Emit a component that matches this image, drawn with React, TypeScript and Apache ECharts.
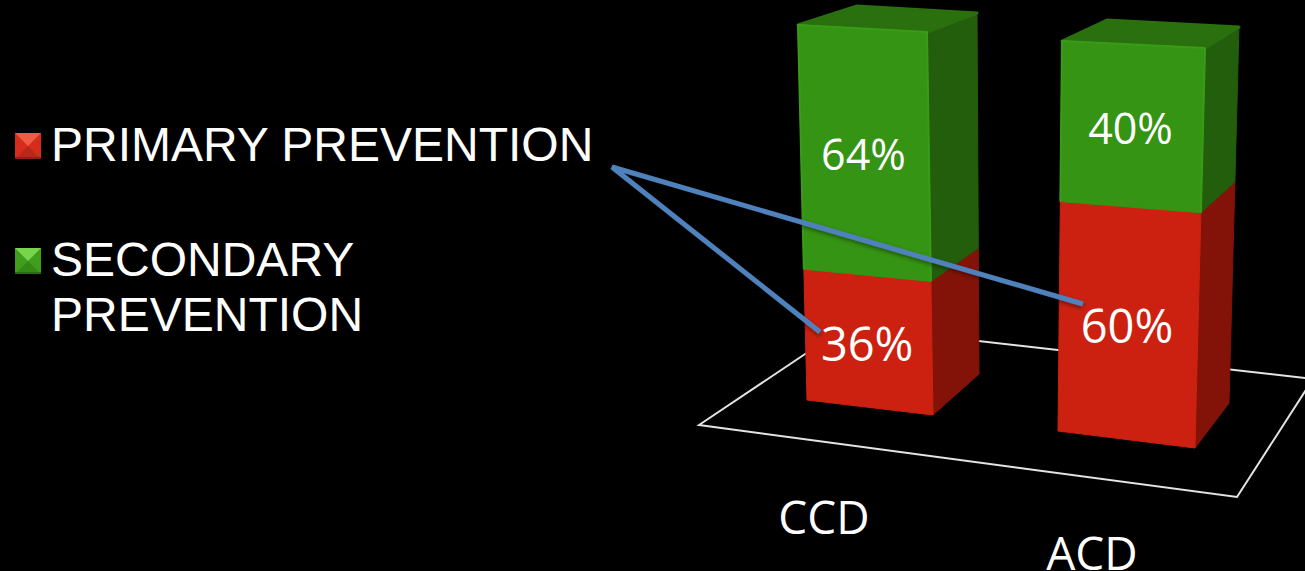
import React, { useEffect, useRef } from "react";
import * as echarts from "echarts";

const categories = ["CCD", "ACD"];
const primaryPrevention = [36, 60];
const secondaryPrevention = [64, 40];
const seriesNames = ["PRIMARY PREVENTION", "SECONDARY PREVENTION"];
const legendLines = [["PRIMARY PREVENTION"], ["SECONDARY", "PREVENTION"]];

const WIDTH = 1305;
const HEIGHT = 571;

type Pt = [number, number];
type Edge = { bottom: Pt; top: Pt };

// Screen projection of each column's 0-100% box: three vertical edges plus the far top corner.
const columnFrames: { frontLeft: Edge; frontRight: Edge; backRight: Edge; backTop: Pt }[] = [
  {
    frontLeft: { bottom: [807, 400], top: [798, 25] },
    frontRight: { bottom: [933, 415], top: [927, 32] },
    backRight: { bottom: [979, 374], top: [977, 13] },
    backTop: [857, 6],
  },
  {
    frontLeft: { bottom: [1058, 431], top: [1062, 41] },
    frontRight: { bottom: [1195, 448], top: [1205, 48] },
    backRight: { bottom: [1229, 403], top: [1239, 27] },
    backTop: [1107, 20],
  },
];

// Vertical foreshortening of the perspective view.
const DEPTH_RATIO = 1.05;
const foreshorten = (t: number) => t / (t + (1 - t) * DEPTH_RATIO);
const along = (e: Edge, t: number): Pt => {
  const k = foreshorten(t);
  return [e.bottom[0] + (e.top[0] - e.bottom[0]) * k, e.bottom[1] + (e.top[1] - e.bottom[1]) * k];
};

const palette = [
  { front: "#cc2110", side: "#831308", top: "#a81a0c", rim: "#d0261400", labelSize: 47 },
  { front: "#359413", side: "#225e0b", top: "#2a700e", rim: "#399c16", labelSize: 43 },
];

const floorOutline: Pt[] = [[699, 425], [1237, 497], [1313, 379], [847, 326]];
const calloutPath: Pt[] = [[820, 332], [612, 167], [1083, 304]];
const categoryAnchors: Pt[] = [[824, 516], [1092, 552]];

const markers = [
  { x: 15, y: 133, size: 26, top: "#ec5c46", side: "#d62c1c", bottom: "#b5281a", edge: "#8e2014" },
  { x: 15, y: 248, size: 26, top: "#78d44a", side: "#3f9f1c", bottom: "#358a16", edge: "#2a6c12" },
];
const legendBaselines = [[144], [259, 314]];

function columnSeries(name: string, index: number, starts: number[], ends: number[]) {
  const colors = palette[index];
  return {
    type: "custom",
    name,
    z: 3,
    silent: true,
    data: categories.map((_, i) => [i, starts[i], ends[i]]),
    encode: { x: 0, y: [1, 2] },
    renderItem: (_params: any, api: any) => {
      const cat = api.value(0) as number;
      const from = api.value(1) as number;
      const to = api.value(2) as number;
      const zeroY = api.coord([cat, 0])[1];
      const fullY = api.coord([cat, 100])[1];
      const frac = (v: number) => (zeroY - api.coord([cat, v])[1]) / (zeroY - fullY);
      const t0 = frac(from);
      const t1 = frac(to);
      const frame = columnFrames[cat];
      const fl0 = along(frame.frontLeft, t0);
      const fl1 = along(frame.frontLeft, t1);
      const fr0 = along(frame.frontRight, t0);
      const fr1 = along(frame.frontRight, t1);
      const br0 = along(frame.backRight, t0);
      const br1 = along(frame.backRight, t1);
      const face = (points: Pt[], fill: string) => ({
        type: "polygon",
        shape: { points },
        style: { fill, stroke: fill, lineWidth: 1, lineJoin: "round" },
      });
      const isTop = to >= 100;
      const children: any[] = [face([fr0, br0, br1, fr1], colors.side)];
      if (isTop) {
        children.push({
          type: "polygon",
          shape: { points: [fl1, fr1, br1, frame.backTop] },
          style: { fill: colors.top, stroke: colors.top, lineWidth: 3, lineJoin: "round" },
        });
      }
      children.push(face([fl0, fr0, fr1, fl1], colors.front));
      // Soft highlight along the bevelled front edges.
      children.push({
        type: "polyline",
        shape: { points: isTop ? [fl0, fl1, fr1, fr0] : [fr1, fr0] },
        style: { fill: "none", stroke: colors.rim, lineWidth: 2, lineJoin: "round" },
      });
      children.push({
        type: "text",
        z2: 5,
        style: {
          text: `${to - from}%`,
          x: (fl0[0] + fr0[0] + fl1[0] + fr1[0]) / 4 - 1.5,
          y: (fl0[1] + fr0[1] + fl1[1] + fr1[1]) / 4 + 2,
          fill: "#ffffff",
          font: `${colors.labelSize}px "Open Sans"`,
          align: "center",
          verticalAlign: "middle",
        },
      });
      return { type: "group", children };
    },
  };
}

// Bevelled legend square: a shallow pyramid seen from above with a dark bottom lip.
function markerShapes(m: (typeof markers)[number]) {
  const { x, y, size } = m;
  const a: Pt = [x, y];
  const b: Pt = [x + size, y];
  const c: Pt = [x + size, y + size];
  const d: Pt = [x, y + size];
  const apex: Pt = [x + size / 2, y + size / 2];
  const poly = (points: Pt[], fill: string) => ({ type: "polygon", shape: { points }, style: { fill } });
  return [
    poly([a, b, c, d], m.side),
    poly([a, b, apex], m.top),
    poly([c, d, apex], m.bottom),
    poly([[x, y + size - 2], [x + size, y + size - 2], c, d], m.edge),
  ];
}

export default function App() {
  const ref = useRef<HTMLDivElement>(null);

  useEffect(() => {
    document.body.style.margin = "0";
    document.body.style.background = "#000";
    document.body.style.overflow = "hidden";
    const chart = echarts.init(ref.current!, undefined, { renderer: "svg" });
    const legendTexts = legendLines.flatMap((lines, i) =>
      lines.map((line, j) => ({
        type: "text",
        style: {
          text: line,
          x: 51,
          y: legendBaselines[i][j],
          fill: "#ffffff",
          font: '48px "Liberation Sans"',
          align: "left",
          verticalAlign: "middle",
        },
      }))
    );
    chart.setOption({
      animation: false,
      backgroundColor: "#000000",
      grid: { left: 0, right: 0, top: 0, bottom: 0 },
      xAxis: { type: "category", data: categories, show: false },
      yAxis: { type: "value", min: 0, max: 100, show: false },
      series: [
        columnSeries(seriesNames[0], 0, categories.map(() => 0), primaryPrevention),
        columnSeries(seriesNames[1], 1, primaryPrevention, primaryPrevention.map((v, i) => v + secondaryPrevention[i])),
      ],
      graphic: [
        {
          type: "polygon",
          z: 0,
          shape: { points: floorOutline },
          style: { fill: "none", stroke: "#e4e4e4", lineWidth: 2 },
        },
        ...markers.flatMap(markerShapes),
        ...legendTexts,
        ...categories.map((label, i) => ({
          type: "text",
          style: {
            text: label,
            x: categoryAnchors[i][0],
            y: categoryAnchors[i][1],
            fill: "#ffffff",
            font: '46px "Open Sans"',
            align: "center",
            verticalAlign: "middle",
          },
        })),
        {
          type: "polyline",
          z: 20,
          shape: { points: calloutPath },
          style: {
            fill: "none",
            stroke: "#4f81bd",
            lineWidth: 5,
            shadowBlur: 4,
            shadowOffsetY: 2,
            shadowColor: "rgba(0,0,0,0.45)",
          },
        },
      ],
    });
    return () => chart.dispose();
  }, []);

  return <div ref={ref} style={{ width: WIDTH, height: HEIGHT }} />;
}
